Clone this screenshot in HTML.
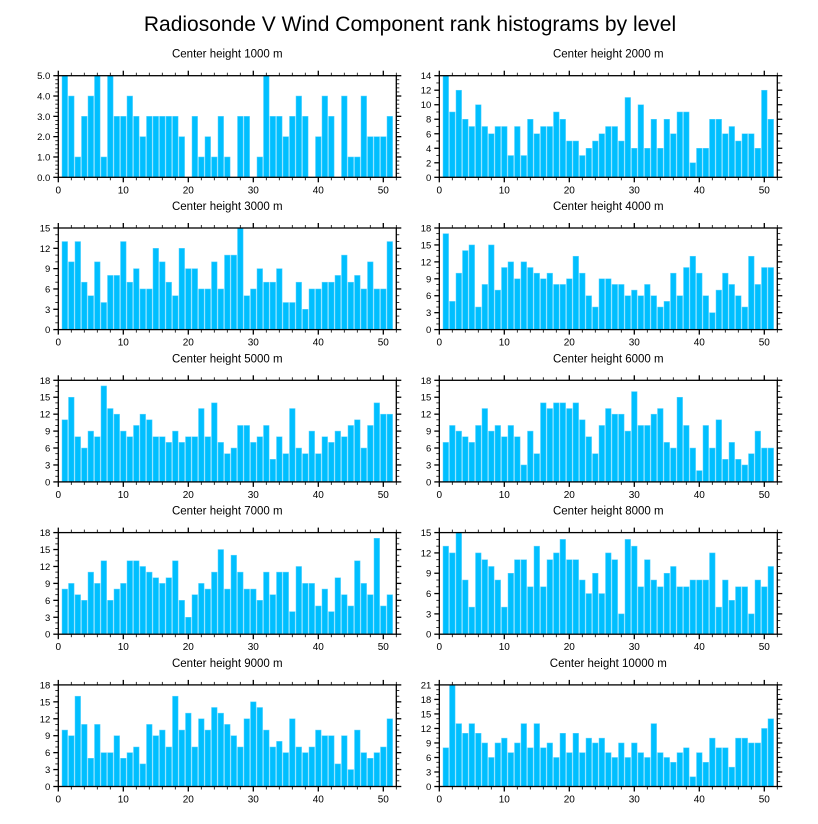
<!DOCTYPE html>
<html><head><meta charset="utf-8"><style>
body{margin:0;background:#fff;}
svg{display:block;font-family:"Liberation Sans",Arial,sans-serif;}
</style></head><body>
<svg id="chart" width="818" height="824" viewBox="0 0 818 824" xmlns="http://www.w3.org/2000/svg">
<text x="410" y="31" font-size="21" text-anchor="middle" fill="#000">Radiosonde V Wind Component rank histograms by level</text>
</svg>
<script>
const levels = ["1000","2000","3000","4000","5000","6000","7000","8000","9000","10000"];
const ranks = Array.from({length:51},(_, i)=>i+1);
const h1000 = [5,4,1,3,4,5,1,5,3,3,4,3,2,3,3,3,3,3,2,0,3,1,2,1,3,1,0,3,3,0,1,5,3,3,2,3,4,3,0,2,4,3,0,4,1,1,4,2,2,2,3];
const h2000 = [14,9,12,8,7,10,7,6,7,7,3,7,3,8,6,7,7,9,8,5,5,3,4,5,6,7,7,5,11,4,10,4,8,4,8,6,9,9,2,4,4,8,8,6,7,5,6,6,4,12,8];
const h3000 = [13,10,13,7,5,10,4,8,8,13,7,9,6,6,12,10,7,5,12,9,9,6,6,10,6,11,11,15,5,6,9,7,7,9,4,4,7,3,6,6,7,7,8,11,7,8,6,10,6,6,13];
const h4000 = [17,5,10,14,15,4,8,15,7,11,12,9,12,11,10,9,10,8,8,9,13,10,6,4,9,9,8,8,6,7,6,8,6,4,5,10,6,11,13,10,6,3,7,10,8,6,4,13,8,11,11];
const h5000 = [11,15,8,6,9,8,17,13,12,9,8,10,12,11,8,8,7,9,7,8,8,13,8,14,7,5,6,10,10,7,8,10,4,8,5,13,6,5,9,5,8,7,9,8,10,11,6,10,14,12,12];
const h6000 = [7,10,9,8,7,10,13,9,10,8,10,8,3,9,5,14,13,14,14,13,14,11,8,5,10,13,12,12,9,16,10,10,12,13,7,6,15,10,6,2,10,6,11,4,7,4,3,5,9,6,6];
const h7000 = [8,9,7,6,11,9,13,6,8,9,13,13,12,11,10,9,10,13,6,3,7,9,8,11,15,8,14,11,8,8,6,11,7,11,11,4,12,9,9,5,8,4,10,7,5,13,9,7,17,5,7];
const h8000 = [13,12,15,8,4,12,11,10,8,4,9,11,11,7,13,7,11,12,14,11,11,8,6,9,6,12,11,3,14,13,7,11,8,7,9,10,7,7,8,8,8,12,4,8,5,7,7,3,8,7,10];
const h9000 = [10,9,16,11,5,11,6,6,9,5,6,7,4,11,9,10,7,16,10,13,7,12,10,14,13,11,9,7,12,15,14,10,7,8,6,12,7,6,7,10,9,9,4,9,3,10,6,5,6,7,12];
const h10000 = [8,21,13,11,13,11,9,6,9,10,7,9,13,8,13,8,9,6,11,7,11,7,10,9,10,7,6,9,6,9,7,6,13,7,6,5,7,8,2,7,5,10,8,8,4,10,10,9,9,12,14];
const yMax = [5,14,15,18,18,18,18,15,18,21];
const yStep = [1,2,3,3,3,3,3,3,3,3];
const yMinor = [0.2,1,1,1,1,1,1,1,1,1];
const xTicks = [0,10,20,30,40,50];
const series = [h1000,h2000,h3000,h4000,h5000,h6000,h7000,h8000,h9000,h10000];

const NS="http://www.w3.org/2000/svg";
const svg=document.getElementById('chart');
function mk(tag,attrs,parent){const e=document.createElementNS(NS,tag);for(const k in attrs)e.setAttribute(k,attrs[k]);(parent||svg).appendChild(e);return e;}

const PW=338, PH=101.6, XMIN=0, XMAX=52;
series.forEach((vals,p)=>{
  const col=p%2,row=Math.floor(p/2);
  const x0=col?439.3:58.3, y0=75.7+row*152.3;
  const xs=v=>x0+(v-XMIN)/(XMAX-XMIN)*PW;
  const ys=v=>y0+PH-v/yMax[p]*PH;
  const g=mk('g',{});
  
  
  const t=mk('text',{x:x0+PW/2,y:y0-18,'font-size':11.5,'text-anchor':'middle',fill:'#000'},g);
  
  
  t.textContent='Center height '+levels[p]+' m';
  vals.forEach((v,i)=>{
    const r=ranks[i];
    const b=mk('rect',{x:xs(r-0.43),y:ys(v),width:xs(r+0.43)-xs(r-0.43),height:ys(0)-ys(v),fill:'#00BFFF',stroke:'#5fd4ff','stroke-width':0.5},g);
    
    
  });
  const fr=mk('rect',{x:x0,y:y0,width:PW,height:PH,fill:'none',stroke:'#000','stroke-width':1.3},g);
  
  
  // x ticks
  for(let v=0;v<=XMAX;v+=2){
    const major=v%10===0, L=major?5:3, x=xs(v);
    mk('line',{x1:x,x2:x,y1:y0+PH,y2:y0+PH+L,stroke:'#000','stroke-width':major?1.3:0.8},g);
    mk('line',{x1:x,x2:x,y1:y0,y2:y0-L,stroke:'#000','stroke-width':major?1.3:0.8},g);
  }
  xTicks.forEach(v=>{
    const l=mk('text',{x:xs(v),y:y0+PH+16,'font-size':10,'text-anchor':'middle',fill:'#000'},g);
    
    
    l.textContent=v;
  });
  // y ticks
  const nMinor=Math.round(yMax[p]/yMinor[p]);
  for(let i=0;i<=nMinor;i++){
    const v=i*yMinor[p];
    const major=Math.abs(v/yStep[p]-Math.round(v/yStep[p]))<1e-6, L=major?5:3, y=ys(v);
    mk('line',{x1:x0,x2:x0-L,y1:y,y2:y,stroke:'#000','stroke-width':major?1.3:0.8},g);
    mk('line',{x1:x0+PW,x2:x0+PW+L,y1:y,y2:y,stroke:'#000','stroke-width':major?1.3:0.8},g);
  }
  for(let v=0;v<=yMax[p]+1e-6;v+=yStep[p]){
    const l=mk('text',{x:x0-8,y:ys(v)+3.5,'font-size':9.5,'text-anchor':'end',fill:'#000'},g);
    
    
    l.textContent=p===0?v.toFixed(1):v;
  }
});
</script>
</body></html>
